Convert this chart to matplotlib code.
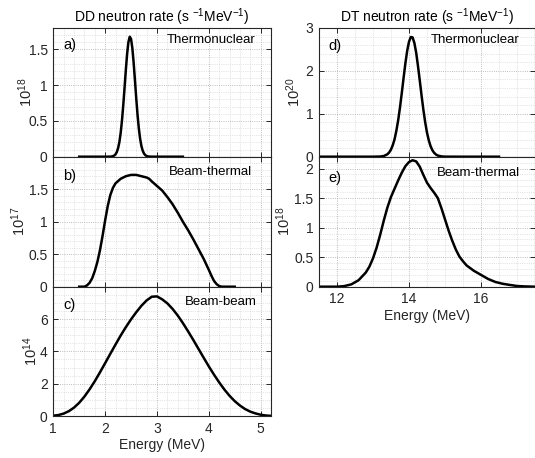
import numpy as np
import matplotlib.pyplot as plt
from matplotlib.ticker import MultipleLocator, NullFormatter

plt.rcParams['font.family'] = ['Liberation Sans', 'DejaVu Sans']
plt.rcParams['mathtext.fontset'] = 'custom'
plt.rcParams['mathtext.rm'] = 'Liberation Sans'
plt.rcParams['mathtext.it'] = 'Liberation Sans:italic'
plt.rcParams['mathtext.bf'] = 'Liberation Sans:bold'

# ---- DD spectra (energy in MeV, rate in units of the panel exponent) ----
dd_thermo_E = [1.5, 1.8, 2.0, 2.1, 2.125, 2.15, 2.175, 2.2, 2.225, 2.25, 2.275, 2.3, 2.325,
               2.35, 2.375, 2.4, 2.425, 2.45, 2.475, 2.5, 2.525, 2.55, 2.575, 2.6, 2.625,
               2.65, 2.675, 2.7, 2.725, 2.75, 2.775, 2.8, 2.825, 2.85, 2.875, 2.9, 3.2, 3.5]
dd_thermo_rate = [0, 0, 0, 0.001, 0.003, 0.007, 0.016, 0.033, 0.065, 0.119, 0.205, 0.333, 0.505,
                  0.722, 0.968, 1.220, 1.444, 1.606, 1.678, 1.647, 1.518, 1.315, 1.070, 0.818, 0.587,
                  0.396, 0.251, 0.149, 0.084, 0.044, 0.022, 0.010, 0.004, 0.002, 0.001, 0, 0, 0]

dd_bt_E = [1.5, 1.6, 1.65, 1.7, 1.75, 1.8, 1.85, 1.9, 1.95, 2.0, 2.05, 2.1, 2.15, 2.2, 2.3,
           2.4, 2.5, 2.6, 2.7, 2.8, 2.85, 2.9, 3.0, 3.1, 3.2, 3.3, 3.4, 3.5, 3.6, 3.7, 3.8,
           3.9, 4.0, 4.05, 4.1, 4.15, 4.2, 4.25, 4.3, 4.5]
dd_bt_rate = [0, 0, 0.02, 0.06, 0.13, 0.24, 0.38, 0.56, 0.78, 1.02, 1.24, 1.41, 1.52, 1.59, 1.66,
              1.70, 1.72, 1.72, 1.70, 1.68, 1.66, 1.62, 1.55, 1.48, 1.38, 1.27, 1.14, 1.00, 0.87,
              0.73, 0.58, 0.43, 0.26, 0.17, 0.09, 0.04, 0.01, 0, 0, 0]

dd_bb_E = [1.0, 1.1, 1.2, 1.3, 1.4, 1.5, 1.6, 1.7, 1.8, 1.9, 2.0, 2.1, 2.2, 2.3, 2.4, 2.5,
           2.6, 2.7, 2.8, 2.9, 3.0, 3.1, 3.2, 3.3, 3.4, 3.5, 3.6, 3.7, 3.8, 3.9, 4.0, 4.1,
           4.2, 4.3, 4.4, 4.5, 4.6, 4.7, 4.8, 4.9, 5.0, 5.1, 5.2]
dd_bb_rate = [0.02, 0.06, 0.15, 0.30, 0.52, 0.82, 1.20, 1.65, 2.15, 2.70, 3.27, 3.85, 4.42, 4.98,
              5.50, 5.98, 6.42, 6.82, 7.15, 7.38, 7.40, 7.22, 6.97, 6.63, 6.22, 5.75, 5.24, 4.71,
              4.16, 3.61, 3.07, 2.56, 2.08, 1.64, 1.25, 0.92, 0.65, 0.43, 0.27, 0.16, 0.08, 0.03, 0.01]

# ---- DT spectra ----
dt_thermo_E = [11.5, 12.5, 13.0, 13.2, 13.3, 13.4, 13.45, 13.5, 13.55, 13.6, 13.65, 13.7, 13.75,
               13.8, 13.85, 13.9, 13.95, 14.0, 14.05, 14.1, 14.15, 14.2, 14.25, 14.3, 14.35,
               14.4, 14.45, 14.5, 14.55, 14.6, 14.65, 14.7, 14.75, 14.8, 14.9, 15.0, 15.5, 16.5]
dt_thermo_rate = [0, 0, 0, 0.004, 0.016, 0.057, 0.10, 0.167, 0.27, 0.41, 0.61, 0.853, 1.15,
                  1.487, 1.84, 2.18, 2.47, 2.68, 2.79, 2.78, 2.65, 2.42, 2.11, 1.77, 1.42,
                  1.09, 0.80, 0.56, 0.38, 0.244, 0.15, 0.089, 0.05, 0.027, 0.007, 0.001, 0, 0]

dt_bt_E = [11.5, 12.0, 12.2, 12.4, 12.6, 12.8, 12.9, 13.0, 13.1, 13.2, 13.3, 13.4, 13.5, 13.6,
           13.7, 13.8, 13.9, 14.0, 14.1, 14.2, 14.3, 14.4, 14.5, 14.6, 14.7, 14.8, 14.9, 15.0,
           15.1, 15.2, 15.3, 15.4, 15.5, 15.6, 15.8, 16.0, 16.2, 16.4, 16.6, 16.8, 17.0, 17.2, 17.5]
dt_bt_rate = [0, 0, 0.01, 0.04, 0.11, 0.24, 0.34, 0.48, 0.66, 0.88, 1.12, 1.34, 1.52, 1.66,
              1.80, 1.93, 2.04, 2.11, 2.14, 2.12, 2.03, 1.89, 1.76, 1.67, 1.59, 1.50, 1.33, 1.14,
              0.95, 0.78, 0.63, 0.51, 0.43, 0.36, 0.27, 0.20, 0.13, 0.08, 0.05, 0.03, 0.012, 0.005, 0]

W, H = 535, 458
AX_COLOR = '#262626'


def rect(x0, y0, x1, y1):
    # pixel box (top-left origin) -> figure fraction
    return [x0 / W, 1 - y1 / H, (x1 - x0) / W, (y1 - y0) / H]


def draw_panel(ax, energy, rate, xlim, xmajor, xminor, ylim, ymajor, yminor,
               letter, letter_y, name, name_x, name_y, exponent, label_x, show_x):
    ax.plot(energy, rate, color='black', lw=1.8, solid_joinstyle='round')
    ax.set_xlim(*xlim)
    ax.set_ylim(*ylim)
    ax.xaxis.set_major_locator(MultipleLocator(xmajor))
    ax.xaxis.set_minor_locator(MultipleLocator(xminor))
    ax.yaxis.set_major_locator(MultipleLocator(ymajor))
    ax.yaxis.set_minor_locator(MultipleLocator(yminor))
    # the top tick is only labelled on panel d
    ax.set_yticks([t for t in np.arange(0, ylim[1] + 1e-9, ymajor) if t < ylim[1] - 1e-6 or letter == 'd)'])
    ax.yaxis.set_major_formatter(plt.FuncFormatter(lambda v, p: f'{v:g}'))

    ax.grid(which='major', ls=':', color='#a8a8a8', lw=0.6)
    ax.grid(which='minor', ls=':', color='#cdcdcd', lw=0.5)
    ax.set_axisbelow(True)
    ax.tick_params(which='both', direction='in', top=True, right=True,
                   colors=AX_COLOR, labelsize=10, width=0.7)
    ax.tick_params(which='major', length=3.5, pad=4)
    ax.tick_params(which='minor', length=0)
    for sp in ax.spines.values():
        sp.set_color(AX_COLOR)
        sp.set_linewidth(0.8)

    if show_x:
        ax.set_xlabel('Energy (MeV)', fontsize=10, color=AX_COLOR, labelpad=2)
    else:
        ax.xaxis.set_major_formatter(NullFormatter())

    ax.set_ylabel('10$^{%d}$' % exponent, fontsize=10.5, color=AX_COLOR)
    ax.yaxis.set_label_coords(label_x, 0.5)

    ax.text(0.045, letter_y, letter, transform=ax.transAxes, fontsize=10.5,
            ha='left', va='center', color='black')
    ax.text(name_x, name_y, name, transform=ax.transAxes, fontsize=9.5,
            ha='right', va='center', color='black')


fig = plt.figure(figsize=(W / 100, H / 100), dpi=100)

ax_a = fig.add_axes(rect(53.3, 28, 271, 156.7))
ax_b = fig.add_axes(rect(53.3, 156.7, 271, 286.7))
ax_c = fig.add_axes(rect(53.3, 286.7, 271, 416))
ax_d = fig.add_axes(rect(319, 28, 535, 156.7))
ax_e = fig.add_axes(rect(319, 156.7, 535, 286.7))

draw_panel(ax_a, dd_thermo_E, dd_thermo_rate, (1, 5.2), 1, 0.2, (0, 1.8), 0.5, 0.1,
           'a)', 0.87, 'Thermonuclear', 0.927, 0.907, 18, -0.084, False)
draw_panel(ax_b, dd_bt_E, dd_bt_rate, (1, 5.2), 1, 0.2, (0, 2.0), 0.5, 0.1,
           'b)', 0.853, 'Beam-thermal', 0.911, 0.885, 17, -0.116, False)
draw_panel(ax_c, dd_bb_E, dd_bb_rate, (1, 5.2), 1, 0.2, (0, 8), 2, 0.5,
           'c)', 0.858, 'Beam-beam', 0.934, 0.884, 14, -0.061, True)
draw_panel(ax_d, dt_thermo_E, dt_thermo_rate, (11.5, 17.5), 2, 0.5, (0, 3), 1, 0.2,
           'd)', 0.862, 'Thermonuclear', 0.93, 0.907, 20, -0.074, False)
draw_panel(ax_e, dt_bt_E, dt_bt_rate, (11.5, 17.5), 2, 0.5, (0, 2.2), 0.5, 0.1,
           'e)', 0.836, 'Beam-thermal', 0.93, 0.875, 18, -0.12, True)

ax_a.set_title('DD neutron rate (s $^{-1}$MeV$^{-1}$)', fontsize=10, pad=3, color='black')
ax_d.set_title('DT neutron rate (s $^{-1}$MeV$^{-1}$)', fontsize=10, pad=3, color='black')

fig.savefig('out.png', dpi=100)
